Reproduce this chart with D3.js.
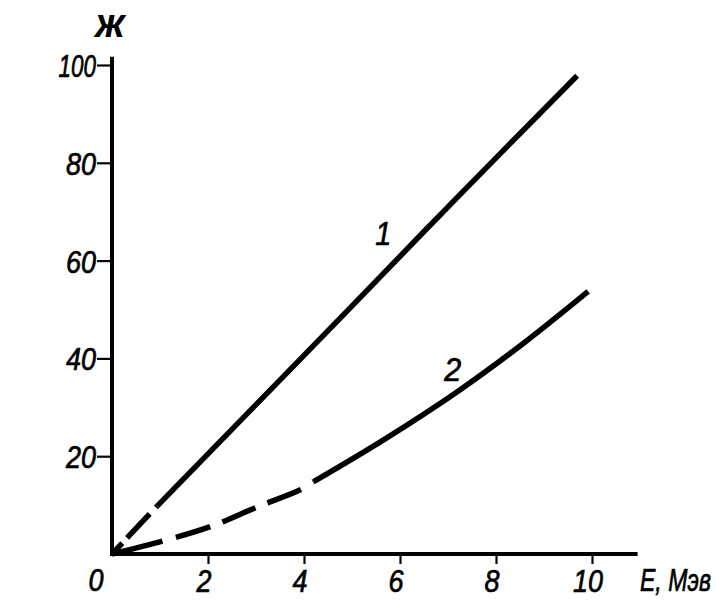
<!DOCTYPE html>
<html><head><meta charset="utf-8">
<script src="https://cdn.jsdelivr.net/npm/d3@7"></script>
<style>
html,body{margin:0;padding:0;background:#fff;}
svg{display:block;}
text{font-family:"Liberation Sans","DejaVu Sans",sans-serif;font-style:italic;fill:#000;stroke:#000;stroke-width:0.7px;}
</style></head>
<body>
<svg id="chart" width="716" height="612"></svg>
<script>
// ---- data ----
const xTicks = [2, 4, 6, 8, 10];
const yTicks = [20, 40, 60, 80, 100];
const xTickLabels = ["2", "4", "6", "8", "10"];
const yTickLabels = ["20", "40", "60", "80", "100"];
const xAxisTitle = "E, Мэв";
const yAxisTitle = "ж";
const originLabel = "0";

// curve 1: dashed near origin, then solid
const curve1DashE = [0, 0.94];
const curve1DashK = [0, 9.8];
const curve1SolidE = [0.94, 4.75, 7.25, 9.69];
const curve1SolidK = [9.8, 48.2, 73.5, 97.8];
const curve1Label = "1";
const curve1LabelAt = [5.65, 63.2];

// curve 2: dashed to E~4.2, then solid
const curve2DashE = [0, 1.06, 2.08, 3.02, 3.96, 4.2];
const curve2DashK = [0, 2.65, 5.7, 9.6, 13.3, 14.8];
const curve2SolidE = [4.2, 5.65, 7.21, 8.56, 9.92];
const curve2SolidK = [14.8, 23.3, 33.3, 43.0, 53.7];
const curve2Label = "2";
const curve2LabelAt = [7.1, 35.4];

// ---- drawing ----
const svg = d3.select("#chart");
const x = d3.scaleLinear().domain([0, 10]).range([112, 592]);
const y = d3.scaleLinear().domain([0, 100]).range([554, 65]);

const zip = (a, b) => a.map((v, i) => [v, b[i]]);
const line = d3.line().x(d => x(d[0])).y(d => y(d[1])).curve(d3.curveCatmullRom.alpha(0.5));

// axes lines
svg.append("line").attr("x1", x(0) - 1).attr("x2", x(10.95))
  .attr("y1", y(0)).attr("y2", y(0))
  .attr("stroke", "#000").attr("stroke-width", 4);
svg.append("line").attr("x1", x(0)).attr("x2", x(0))
  .attr("y1", y(0) + 2).attr("y2", y(101.7))
  .attr("stroke", "#000").attr("stroke-width", 4);

// ticks via d3 axes (labels drawn separately)
const xAxis = d3.axisBottom(x).tickValues(xTicks).tickSize(10).tickFormat("");
const gx = svg.append("g").attr("transform", `translate(0,${y(0)})`).call(xAxis);
gx.select(".domain").remove();
gx.selectAll(".tick line").attr("stroke", "#000").attr("stroke-width", 2.2);

const yAxis = d3.axisLeft(y).tickValues(yTicks).tickSize(15).tickFormat("");
const gy = svg.append("g").attr("transform", `translate(${x(0)},0)`).call(yAxis);
gy.select(".domain").remove();
gy.selectAll(".tick line").attr("stroke", "#000").attr("stroke-width", 2.2);

// tick labels (condensed italic)
const digitW = 15;
svg.selectAll(".xl").data(xTicks).enter().append("text")
  .attr("x", d => x(d) - 4).attr("y", 592)
  .attr("text-anchor", "middle").attr("font-size", 32)
  .attr("textLength", (d, i) => digitW * xTickLabels[i].length)
  .attr("lengthAdjust", "spacingAndGlyphs")
  .text((d, i) => xTickLabels[i]);

svg.selectAll(".yl").data(yTicks).enter().append("text")
  .attr("x", x(0) - 16).attr("y", d => y(d) + 12)
  .attr("text-anchor", "end").attr("font-size", 32)
  .attr("textLength", (d, i) => (yTickLabels[i].length === 3 ? 12.5 : digitW) * yTickLabels[i].length)
  .attr("lengthAdjust", "spacingAndGlyphs")
  .text((d, i) => yTickLabels[i]);

svg.append("text").attr("x", x(0) - 16).attr("y", 591)
  .attr("text-anchor", "middle").attr("font-size", 32)
  .attr("textLength", digitW).attr("lengthAdjust", "spacingAndGlyphs")
  .text(originLabel);

// axis titles
svg.append("text").attr("transform", "translate(640,591) scale(0.72,1)")
  .attr("font-size", 32)
  .text(xAxisTitle);
svg.append("text").attr("x", 110).attr("y", 37)
  .attr("text-anchor", "middle").attr("font-size", 40).attr("font-weight", "bold")
  .style("stroke-width", "0px")
  .text(yAxisTitle);

// curves
const stroke = "#000";
svg.append("path").datum(zip(curve1DashE, curve1DashK)).attr("d", line)
  .attr("fill", "none").attr("stroke", stroke).attr("stroke-width", 5.5)
  .attr("stroke-dasharray", "15,7,33,9");
svg.append("path").datum(zip(curve1SolidE, curve1SolidK)).attr("d", line)
  .attr("fill", "none").attr("stroke", stroke).attr("stroke-width", 5.5);

svg.append("path").datum(zip(curve2DashE, curve2DashK)).attr("d", line)
  .attr("fill", "none").attr("stroke", stroke).attr("stroke-width", 5.5)
  .attr("stroke-dasharray", "52,14,36,13,36,13,36,14,50");
svg.append("path").datum(zip(curve2SolidE, curve2SolidK)).attr("d", line)
  .attr("fill", "none").attr("stroke", stroke).attr("stroke-width", 5.5);

// curve labels
svg.append("text").attr("x", x(curve1LabelAt[0])).attr("y", y(curve1LabelAt[1]))
  .attr("text-anchor", "middle").attr("font-size", 34)
  .attr("textLength", 16).attr("lengthAdjust", "spacingAndGlyphs").text(curve1Label);
svg.append("text").attr("x", x(curve2LabelAt[0])).attr("y", y(curve2LabelAt[1]))
  .attr("text-anchor", "middle").attr("font-size", 34)
  .attr("textLength", 17).attr("lengthAdjust", "spacingAndGlyphs").text(curve2Label);
</script>
</body></html>
